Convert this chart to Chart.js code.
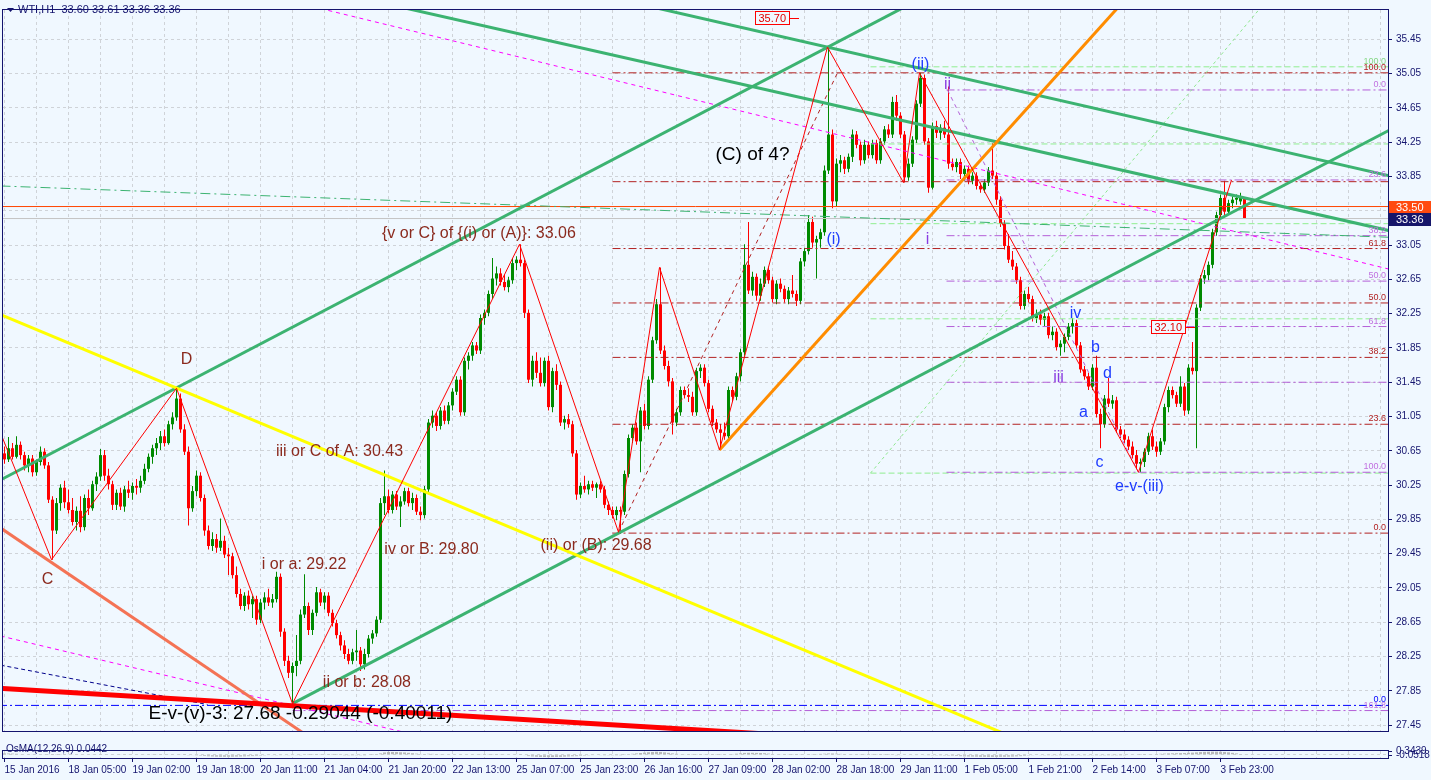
<!DOCTYPE html>
<html>
<head>
<meta charset="utf-8">
<title>WTI,H1</title>
<script src="https://cdn.jsdelivr.net/npm/chart.js@4.4.1/dist/chart.umd.min.js"></script>
<style>
  html, body { margin: 0; padding: 0; background: #f0f8ff; }
  #wrap { position: relative; width: 1431px; height: 780px; overflow: hidden; }
  canvas { position: absolute; left: 0; }
  #mainChart { top: 0; }
  #osmaChart { top: 741px; }
</style>
</head>
<body>
<div id="wrap">
  <canvas id="mainChart" width="1431" height="741"></canvas>
  <canvas id="osmaChart" width="1431" height="39"></canvas>
</div>
<script>
// time labels, one every 16 H1 bars
const xLabels = ['15 Jan 2016', '18 Jan 05:00', '19 Jan 02:00', '19 Jan 18:00', '20 Jan 11:00',
  '21 Jan 04:00', '21 Jan 20:00', '22 Jan 13:00', '25 Jan 07:00', '25 Jan 23:00', '26 Jan 16:00',
  '27 Jan 09:00', '28 Jan 02:00', '28 Jan 18:00', '29 Jan 11:00', '1 Feb 05:00', '1 Feb 21:00',
  '2 Feb 14:00', '3 Feb 07:00', '3 Feb 23:00'];

// price scale labels
const yTicks = [27.45, 27.85, 28.25, 28.65, 29.05, 29.45, 29.85, 30.25, 30.65, 31.05, 31.45,
  31.85, 32.25, 32.65, 33.05, 33.45, 33.85, 34.25, 34.65, 35.05, 35.45];

// H1 candles: [open, high, low, close]
const ohlc = [
  [30.62,30.70,30.50,30.55],[30.55,30.81,30.52,30.68],[30.68,30.74,30.55,30.58],[30.58,30.82,30.56,30.72],[30.72,30.76,30.55,30.60],[30.60,30.64,30.42,30.48],[30.48,30.60,30.40,30.56],[30.56,30.60,30.35,30.40],[30.40,30.55,30.36,30.52],[30.52,30.70,30.48,30.64],
  [30.64,30.68,30.44,30.48],[30.48,30.52,30.04,30.08],[30.08,30.12,29.38,29.72],[29.72,30.10,29.68,30.04],[30.04,30.26,29.95,30.22],[30.22,30.30,29.98,30.05],[30.05,30.20,29.92,29.96],[29.96,30.10,29.78,29.82],[29.82,30.00,29.72,29.95],[29.95,30.12,29.70,29.76],
  [29.76,30.14,29.72,30.10],[30.10,30.20,29.90,29.98],[29.98,30.30,29.95,30.26],[30.26,30.40,30.18,30.35],[30.35,30.67,30.30,30.60],[30.60,30.66,30.30,30.36],[30.36,30.44,30.20,30.26],[30.26,30.30,29.96,30.02],[30.02,30.20,29.96,30.16],[30.16,30.22,29.96,30.00],
  [30.00,30.24,29.94,30.20],[30.20,30.30,30.10,30.16],[30.16,30.28,30.08,30.24],[30.24,30.32,30.14,30.22],[30.22,30.36,30.16,30.30],[30.30,30.50,30.26,30.44],[30.44,30.62,30.40,30.58],[30.58,30.72,30.50,30.68],[30.68,30.80,30.60,30.74],[30.74,30.88,30.66,30.82],
  [30.82,30.90,30.70,30.74],[30.74,31.00,30.72,30.96],[30.96,31.10,30.90,31.04],[31.04,31.38,31.00,31.26],[31.26,31.32,30.86,30.90],[30.90,30.96,30.60,30.64],[30.64,30.70,29.78,29.98],[29.98,30.24,29.94,30.18],[30.18,30.42,30.12,30.36],[30.36,30.40,30.06,30.10],
  [30.10,30.14,29.66,29.72],[29.72,29.78,29.50,29.54],[29.54,29.70,29.48,29.62],[29.62,29.68,29.46,29.52],[29.52,29.86,29.48,29.60],[29.60,29.66,29.40,29.44],[29.44,29.52,29.20,29.42],[29.42,29.46,29.16,29.20],[29.20,29.30,28.94,28.98],[28.98,29.04,28.80,28.84],
  [28.84,29.00,28.78,28.96],[28.96,29.02,28.80,28.86],[28.86,28.96,28.70,28.92],[28.92,28.96,28.62,28.68],[28.68,28.92,28.64,28.88],[28.88,29.00,28.80,28.94],[28.94,29.04,28.84,28.88],[28.88,28.98,28.82,28.92],[28.92,29.24,28.88,29.18],[29.18,29.22,28.48,28.54],
  [28.54,28.58,28.14,28.20],[28.20,28.26,28.00,28.06],[28.06,28.18,27.70,28.14],[28.14,28.50,28.02,28.20],[28.20,28.80,28.16,28.74],[28.74,29.21,28.70,28.84],[28.84,28.88,28.50,28.56],[28.56,28.80,28.50,28.76],[28.76,29.06,28.72,29.00],[29.00,29.04,28.84,28.88],
  [28.88,29.00,28.80,28.96],[28.96,29.00,28.72,28.76],[28.76,28.80,28.60,28.64],[28.64,28.68,28.46,28.50],[28.50,28.54,28.32,28.38],[28.38,28.44,28.22,28.28],[28.28,28.34,28.16,28.20],[28.20,28.34,28.16,28.30],[28.30,28.56,28.20,28.32],[28.32,28.36,28.08,28.16],
  [28.16,28.34,28.10,28.28],[28.28,28.50,28.24,28.46],[28.46,28.56,28.40,28.52],[28.52,28.72,28.48,28.68],[28.68,30.10,28.64,30.04],[30.04,30.42,29.90,30.12],[30.12,30.20,29.92,29.96],[29.96,30.18,29.92,30.14],[30.14,30.18,29.96,30.00],[30.00,30.12,29.76,30.06],
  [30.06,30.22,30.02,30.18],[30.18,30.22,30.00,30.04],[30.04,30.16,29.96,30.10],[30.10,30.14,29.90,29.94],[29.94,30.00,29.84,29.90],[29.90,30.24,29.86,30.20],[30.20,31.02,30.16,30.98],[30.98,31.12,30.92,31.06],[31.06,31.10,30.88,30.94],[30.94,31.16,30.90,31.12],
  [31.12,31.18,30.96,31.00],[31.00,31.22,30.96,31.18],[31.18,31.38,31.12,31.34],[31.34,31.52,31.30,31.48],[31.48,31.52,31.06,31.10],[31.10,31.74,31.06,31.70],[31.70,31.80,31.60,31.76],[31.76,31.92,31.70,31.88],[31.88,31.92,31.78,31.82],[31.82,32.24,31.78,32.20],
  [32.20,32.30,32.12,32.26],[32.26,32.52,32.22,32.48],[32.48,32.90,32.42,32.66],[32.66,32.80,32.58,32.72],[32.72,32.78,32.58,32.62],[32.62,32.70,32.52,32.56],[32.56,32.68,32.50,32.64],[32.64,32.90,32.60,32.84],[32.84,32.92,32.76,32.88],[32.88,33.06,32.80,32.84],
  [32.84,32.88,32.20,32.26],[32.26,32.30,31.44,31.48],[31.48,31.76,31.40,31.70],[31.70,31.80,31.50,31.56],[31.56,31.74,31.40,31.44],[31.44,31.74,31.40,31.70],[31.70,31.76,31.12,31.16],[31.16,31.62,31.10,31.58],[31.58,31.66,31.36,31.42],[31.42,31.46,30.94,30.98],
  [30.98,31.06,30.90,31.02],[31.02,31.08,30.92,30.96],[30.96,31.00,30.58,30.62],[30.62,30.66,30.08,30.14],[30.14,30.28,30.10,30.24],[30.24,30.36,30.16,30.20],[30.20,30.30,30.14,30.26],[30.26,30.30,30.18,30.22],[30.22,30.28,30.10,30.26],[30.26,30.30,30.16,30.20],
  [30.20,30.24,29.98,30.02],[30.02,30.06,29.90,29.96],[29.96,30.00,29.86,29.90],[29.90,30.00,29.84,29.96],[29.96,30.00,29.68,29.94],[29.94,30.42,29.90,30.38],[30.38,30.84,30.34,30.80],[30.80,30.96,30.74,30.92],[30.92,30.98,30.72,30.76],[30.76,31.16,30.40,31.12],
  [31.12,31.20,30.90,30.94],[30.94,31.52,30.90,31.48],[31.48,31.98,31.44,31.94],[31.94,32.42,31.90,32.36],[32.36,32.79,31.78,31.82],[31.82,31.88,31.60,31.64],[31.64,31.70,31.40,31.46],[31.46,31.50,30.84,30.98],[30.98,31.14,30.94,31.10],[31.10,31.40,31.06,31.36],
  [31.36,31.40,31.26,31.30],[31.30,31.38,31.22,31.28],[31.28,31.34,31.06,31.10],[31.10,31.62,31.06,31.58],[31.58,31.66,31.50,31.62],[31.62,31.66,31.40,31.44],[31.44,31.48,31.10,31.14],[31.14,31.18,30.94,30.98],[30.98,31.02,30.86,30.90],[30.90,30.96,30.66,30.86],
  [30.86,30.98,30.78,30.82],[30.82,31.40,30.78,31.36],[31.36,31.40,31.22,31.28],[31.28,31.56,31.24,31.52],[31.52,31.84,31.46,31.80],[31.80,33.06,31.76,32.82],[32.82,33.32,32.48,32.52],[32.52,32.74,32.46,32.68],[32.68,32.72,32.40,32.46],[32.46,32.66,32.40,32.60],
  [32.60,32.80,32.56,32.76],[32.76,32.80,32.60,32.64],[32.64,32.68,32.38,32.42],[32.42,32.64,32.36,32.60],[32.60,32.66,32.50,32.54],[32.54,32.58,32.38,32.42],[32.42,32.56,32.36,32.52],[32.52,32.70,32.44,32.48],[32.48,32.52,32.34,32.40],[32.40,32.90,32.36,32.86],
  [32.86,33.02,32.80,32.98],[32.98,33.40,32.94,33.32],[33.32,33.38,33.02,33.08],[33.08,33.16,32.66,33.12],[33.12,33.24,33.02,33.20],[33.20,33.98,33.16,33.92],[33.92,35.36,33.88,34.34],[34.34,34.40,33.48,33.56],[33.56,34.06,33.50,34.00],[34.00,34.10,33.90,34.04],
  [34.04,34.08,33.88,33.94],[33.94,34.12,33.90,34.08],[34.08,34.40,34.02,34.34],[34.34,34.38,34.18,34.22],[34.22,34.26,33.98,34.04],[34.04,34.28,34.00,34.22],[34.22,34.26,34.06,34.10],[34.10,34.28,34.06,34.24],[34.24,34.28,34.00,34.04],[34.04,34.30,34.00,34.26],
  [34.26,34.44,34.22,34.40],[34.40,34.46,34.30,34.34],[34.34,34.78,34.30,34.72],[34.72,34.80,34.50,34.56],[34.56,34.60,34.30,34.34],[34.34,34.38,33.78,33.84],[33.84,34.06,33.80,34.00],[34.00,34.32,33.96,34.28],[34.28,34.74,34.24,34.70],[34.70,35.06,34.66,35.00],
  [35.00,35.04,34.22,34.26],[34.26,34.30,33.66,33.72],[33.72,34.48,33.70,34.44],[34.44,34.50,34.30,34.36],[34.36,34.46,34.28,34.42],[34.42,34.50,34.30,34.34],[34.34,34.90,33.94,34.00],[34.00,34.06,33.92,33.96],[33.96,34.06,33.90,34.02],[34.02,34.06,33.82,33.88],
  [33.88,33.98,33.80,33.94],[33.94,33.98,33.76,33.80],[33.80,33.90,33.76,33.86],[33.86,33.90,33.70,33.74],[33.74,33.78,33.66,33.70],[33.70,33.82,33.66,33.78],[33.78,33.96,33.74,33.92],[33.92,34.24,33.82,33.86],[33.86,33.90,33.52,33.58],[33.58,33.62,33.26,33.30],
  [33.30,33.34,33.00,33.04],[33.04,33.18,32.84,32.88],[32.88,32.98,32.76,32.80],[32.80,32.84,32.60,32.64],[32.64,32.68,32.30,32.34],[32.34,32.52,32.30,32.48],[32.48,32.56,32.38,32.42],[32.42,32.46,32.16,32.20],[32.20,32.30,32.14,32.24],[32.24,32.30,32.12,32.18],
  [32.18,32.26,32.10,32.22],[32.22,32.26,31.96,32.00],[32.00,32.10,31.94,32.04],[32.04,32.08,31.82,31.86],[31.86,31.94,31.76,31.90],[31.90,32.02,31.80,31.98],[31.98,32.14,31.94,32.10],[32.10,32.20,32.02,32.14],[32.14,32.18,31.84,31.88],[31.88,31.92,31.56,31.60],
  [31.60,31.64,31.48,31.52],[31.52,31.56,31.36,31.40],[31.40,31.66,31.36,31.62],[31.62,31.76,31.04,31.08],[31.08,31.14,30.68,30.96],[30.96,31.30,30.92,31.26],[31.26,31.50,31.16,31.20],[31.20,31.30,31.14,31.24],[31.24,31.28,30.86,30.90],[30.90,30.94,30.80,30.84],
  [30.84,30.90,30.74,30.78],[30.78,30.82,30.66,30.70],[30.70,30.76,30.56,30.60],[30.60,30.66,30.44,30.50],[30.50,30.56,30.40,30.52],[30.52,30.68,30.46,30.64],[30.64,30.86,30.60,30.82],[30.82,30.90,30.66,30.70],[30.70,30.76,30.58,30.64],[30.64,30.80,30.60,30.76],
  [30.76,31.20,30.72,31.16],[31.16,31.40,31.10,31.36],[31.36,31.40,31.26,31.30],[31.30,31.34,31.16,31.20],[31.20,31.52,31.16,31.40],[31.40,31.44,31.06,31.12],[31.12,31.66,31.08,31.62],[31.62,31.92,31.54,31.58],[31.58,32.36,30.68,32.32],[32.32,32.70,32.28,32.66],
  [32.66,32.76,32.60,32.70],[32.70,32.86,32.64,32.82],[32.82,33.24,32.78,33.20],[33.20,33.44,33.16,33.40],[33.40,33.64,33.36,33.60],[33.60,33.80,33.40,33.44],[33.44,33.58,33.40,33.54],[33.54,33.62,33.48,33.58],[33.58,33.64,33.52,33.60],[33.56,33.66,33.52,33.60],
  [33.60,33.61,33.36,33.36]
];

// OsMA(12,26,9) histogram, one value per bar
const osma = [
  0.14,0.13,0.12,0.10,0.06,0.05,0.04,0.04,0.05,0.05,
  0.04,0.03,0.02,0.02,0.03,0.03,0.04,0.04,0.04,0.05,
  0.05,0.05,0.06,0.06,0.07,0.06,0.05,0.05,0.05,0.04,
  0.04,0.04,0.05,0.05,0.05,0.06,0.06,0.07,0.07,0.07,
  0.07,0.06,0.06,0.05,0.04,0.02,-0.03,-0.06,-0.08,-0.10,
  -0.13,-0.16,-0.18,-0.20,-0.21,-0.21,-0.21,-0.20,-0.19,-0.18,
  -0.17,-0.15,-0.14,-0.12,-0.10,-0.08,-0.06,-0.04,-0.03,-0.04,
  -0.06,-0.07,-0.06,-0.04,-0.02,0.00,0.01,0.02,0.02,0.03,
  0.03,0.03,0.02,0.01,0.00,-0.01,-0.02,-0.02,-0.02,-0.02,
  -0.01,0.00,0.01,0.03,0.14,0.24,0.28,0.29,0.28,0.26,
  0.24,0.20,0.16,0.12,0.08,0.08,0.10,0.09,0.08,0.07,
  0.06,0.05,0.05,0.05,0.04,0.05,0.05,0.06,0.06,0.07,
  0.07,0.08,0.08,0.08,0.07,0.06,0.05,0.05,0.04,0.02,
  -0.06,-0.14,-0.18,-0.21,-0.23,-0.24,-0.25,-0.24,-0.23,-0.22,
  -0.20,-0.18,-0.16,-0.15,-0.12,-0.10,-0.08,-0.06,-0.05,-0.04,
  -0.03,-0.03,-0.02,-0.02,-0.01,0.02,0.06,0.10,0.14,0.18,
  0.22,0.26,0.29,0.31,0.29,0.25,0.20,0.14,0.10,0.06,
  0.04,0.03,0.02,0.02,0.02,0.03,0.03,0.02,0.02,0.02,
  0.03,0.05,0.08,0.11,0.15,0.19,0.20,0.20,0.19,0.18,
  0.16,0.12,0.08,0.05,0.04,0.03,0.03,0.02,0.02,0.03,
  0.05,0.07,0.08,0.08,0.09,0.11,0.13,0.13,0.11,0.09,
  0.07,0.05,0.04,0.04,0.03,0.03,0.03,0.02,0.02,0.02,
  0.02,0.01,0.00,-0.02,-0.04,-0.05,-0.06,-0.06,-0.06,-0.05,
  -0.06,-0.07,-0.08,-0.08,-0.08,-0.09,-0.10,-0.11,-0.13,-0.15,
  -0.17,-0.18,-0.19,-0.20,-0.21,-0.21,-0.22,-0.22,-0.22,-0.21,
  -0.21,-0.20,-0.19,-0.17,-0.15,-0.12,-0.09,-0.07,-0.05,-0.04,
  -0.03,-0.03,-0.02,-0.02,-0.02,-0.02,-0.02,-0.02,-0.03,-0.03,
  -0.03,-0.03,-0.02,-0.02,-0.02,-0.02,-0.01,-0.01,-0.01,-0.01,
  -0.01,0.00,0.00,0.00,0.01,0.02,0.04,0.06,0.08,0.10,
  0.12,0.14,0.15,0.16,0.17,0.18,0.20,0.22,0.25,0.28,
  0.30,0.31,0.32,0.32,0.31,0.29,0.25,0.20,0.14,0.08,0.0442
];
const osmaTicks = [0.3439, 0, -0.0518];

// trend lines, [bar, price] end points
const channelUpper = [[-1, 30.31], [230, 35.95]];
const channelLower = [[72, 27.70], [347, 34.41]];
const fallUpper = [[158, 35.87], [347, 33.85]];
const fallLower = [[95, 35.87], [347, 33.21]];
const orangeTrend = [[178.75, 30.66], [282, 36.01]];
const yellowTrend = [[-1, 32.24], [250, 27.35]];
const salmonTrend = [[-1, 29.75], [80, 27.19]];
const redBase = [[-1, 27.88], [200, 27.32]];
const magentaUpper = [[79, 35.81], [347, 32.76]];
const magentaLower = [[-1, 28.49], [105, 27.31]];
const greenDashDot = [[-1, 33.74], [347, 33.14]];
const lightGreenRay = [[216.5, 30.39], [316, 35.93]];
const navyDashed = [[-1, 28.15], [50.75, 27.69]];
const brownDashed = [[153.5, 29.70], [208.25, 35.06]];
const violetDashed = [[235.75, 34.86], [283.5, 30.40]];
const waveZigzag = [[-1, 30.86], [11.75, 29.38], [43, 31.38], [72, 27.70], [128.75, 33.06],
  [153.5, 29.70], [163.75, 32.79], [178.75, 30.66], [205.75, 35.36], [224.75, 33.78],
  [228.75, 35.06], [283.5, 30.40], [306.75, 33.81]];

// fibonacci levels
const fibRedFrom = 152;
const fibRedLevels = [35.06, 33.79, 33.01, 32.375, 31.74, 30.96, 29.69];
const fibRedNames = ['100.0', '', '61.8', '50.0', '38.2', '23.6', '0.0'];
const fibVioletFrom = 235.5;
const fibVioletLevels = [34.86, 33.81, 33.16, 32.63, 32.10, 31.45, 30.40];
const fibVioletNames = ['0.0', '23.6', '38.2', '50.0', '61.8', '', '100.0'];
const fibGreenFrom = 216.5;
const fibGreenLevels = [35.13, 34.23, 33.30, 32.19, 30.39];
const fibGreenNames = ['100.0', '', '', '', ''];
const baseBlueLevel = 27.68;
const baseVioletLevel = 27.62;
const baseVioletFrom = 72;
const bidPrice = 33.50;
const lastPrice = 33.36;

// price marks (bar, price)
const priceMarks = [[187.75, 35.70], [286.5, 32.10]];

// wave notes [bar, price, text]
const brownNotes = [
  [45.5, 31.71, 'D'], [10.75, 29.15, 'C'],
  [83.75, 30.64, 'iii or C of A: 30.43'], [74.9, 29.32, 'i or a: 29.22'],
  [106.75, 29.50, 'iv or B: 29.80'], [90.6, 27.95, 'ii or b: 28.08'],
  [118.6, 33.19, '{v or C} of {(i) or (A)}: 33.06'], [147.9, 29.55, '(ii) or (B): 29.68']
];
const blueNotes = [
  [207.25, 33.12, '(i)'], [229, 35.16, '(ii)'], [267.75, 32.25, 'iv'], [272.75, 31.86, 'b'],
  [275.75, 31.55, 'd'], [269.75, 31.10, 'a'], [273.75, 30.51, 'c'], [283.75, 30.23, 'e-v-(iii)']
];
const violetNotes = [[235.75, 34.92, 'ii'], [230.75, 33.11, 'i'], [263.5, 31.51, 'iii']];
const blackNotes = [[187, 34.10, '(C) of 4?'], [74, 27.58, 'E-v-(v)-3: 27.68 -0.29044 (-0.40011)']];

// ---- view ----
const xMin = -0.375, xMax = 345.875;
const yMin = 27.3814, yMax = 35.7929;
const NAVY = '#14146e';
const GRID = '#cfd3d8';
const FONT = "'Liberation Sans', Arial, sans-serif";
const gridBars = Array.from({ length: 44 }, (_, k) => k * 8);

Chart.defaults.font.family = FONT;
Chart.defaults.font.size = 10;
Chart.defaults.color = NAVY;

function seg(points, color, width, dash) {
  return {
    type: 'line',
    data: points.map(p => ({ x: p[0], y: p[1] })),
    borderColor: color,
    borderWidth: width,
    borderDash: dash || [],
    pointRadius: 0,
    fill: false,
    tension: 0,
    order: 0
  };
}

function levelSets(levels, from, color, dash) {
  return levels.map(v => seg([[from, v], [xMax + 1, v]], color, 1, dash));
}

const wickData = ohlc.map((b, i) => ({ x: i, y: [b[2], b[1]] }));
const bodyData = ohlc.map((b, i) => ({ x: i, y: [Math.min(b[0], b[3]), Math.max(b[0], b[3])] }));
const candleColors = ohlc.map(b => b[3] >= b[0] ? '#008a00' : '#ff0000');

const DASHDOT = [8, 3, 2, 3];

const mainDatasets = [
  seg(waveZigzag, '#ff0000', 1),
  seg(redBase, '#ff0000', 5),
  seg(salmonTrend, '#f47355', 3),
  seg(yellowTrend, '#ffff00', 3),
  seg(orangeTrend, '#ff8c00', 3),
  seg(channelUpper, '#3cb371', 3),
  seg(channelLower, '#3cb371', 3),
  seg(fallUpper, '#3cb371', 3),
  seg(fallLower, '#3cb371', 3),
  seg(magentaUpper, '#ff00ff', 1, [4, 4]),
  seg(magentaLower, '#ff00ff', 1, [4, 4]),
  seg(greenDashDot, '#3cb371', 1, [10, 4, 2, 4]),
  seg(lightGreenRay, '#8fe88f', 1, [3, 3]),
  seg(navyDashed, '#00008b', 1, [4, 3]),
  seg(brownDashed, '#b22222', 1, [4, 4]),
  seg(violetDashed, '#b45fd8', 1, [4, 4]),
  seg([[xMin - 1, bidPrice], [xMax + 1, bidPrice]], '#ff4500', 1),
  seg([[xMin - 1, lastPrice], [xMax + 1, lastPrice]], '#c4c4c4', 1),
  seg([[xMin - 1, baseBlueLevel], [xMax + 1, baseBlueLevel]], '#0000ff', 1, DASHDOT),
  seg([[baseVioletFrom, baseVioletLevel], [xMax + 1, baseVioletLevel]], '#b45fd8', 1, DASHDOT),
  ...levelSets(fibRedLevels, fibRedFrom, '#b22222', DASHDOT),
  ...levelSets(fibVioletLevels, fibVioletFrom, '#b45fd8', DASHDOT),
  ...levelSets(fibGreenLevels, fibGreenFrom, '#90ee90', [6, 3]),
  {
    type: 'bar', data: bodyData, backgroundColor: candleColors, barThickness: 3,
    grouped: false, borderWidth: 0, inflateAmount: 0, minBarLength: 1, order: 1
  },
  {
    type: 'bar', data: wickData, backgroundColor: candleColors, barThickness: 1,
    grouped: false, borderWidth: 0, inflateAmount: 0, minBarLength: 1, order: 2
  }
];

function fillBg(chart) {
  const c = chart.ctx;
  c.save();
  c.fillStyle = '#f0f8ff';
  c.fillRect(0, 0, chart.width, chart.height);
  c.restore();
}

function frame(chart) {
  const { ctx, chartArea: a } = chart;
  ctx.save();
  ctx.strokeStyle = NAVY;
  ctx.lineWidth = 1;
  ctx.setLineDash([]);
  ctx.strokeRect(a.left - 0.5, a.top - 0.5, a.right - a.left + 1, a.bottom - a.top + 1);
  ctx.restore();
}

function levelLabels(chart, levels, names, color) {
  const { ctx, chartArea: a, scales: { y } } = chart;
  ctx.save();
  ctx.fillStyle = color;
  ctx.font = '9px ' + FONT;
  ctx.textAlign = 'right';
  ctx.textBaseline = 'bottom';
  levels.forEach((v, k) => {
    if (names[k]) ctx.fillText(names[k], a.right - 2, y.getPixelForValue(v) - 1);
  });
  ctx.restore();
}

function drawNotes(chart, notes, color, size) {
  const { ctx, scales: { x, y } } = chart;
  ctx.save();
  ctx.fillStyle = color;
  ctx.font = size + 'px ' + FONT;
  ctx.textAlign = 'center';
  ctx.textBaseline = 'middle';
  notes.forEach(n => ctx.fillText(n[2], x.getPixelForValue(n[0]), y.getPixelForValue(n[1])));
  ctx.restore();
}

function drawPriceMarks(chart) {
  const { ctx, scales: { x, y } } = chart;
  ctx.save();
  ctx.font = '11px ' + FONT;
  ctx.textBaseline = 'middle';
  priceMarks.forEach(m => {
    const px = Math.round(x.getPixelForValue(m[0]));
    const py = Math.round(y.getPixelForValue(m[1]));
    const txt = m[1].toFixed(2);
    const w = Math.ceil(ctx.measureText(txt).width) + 6;
    ctx.fillStyle = '#f0f8ff';
    ctx.fillRect(px, py - 7, w, 14);
    ctx.strokeStyle = '#ff0000';
    ctx.lineWidth = 1;
    ctx.strokeRect(px + 0.5, py - 6.5, w, 13);
    ctx.beginPath();
    ctx.moveTo(px + w, py + 0.5);
    ctx.lineTo(px + w + 10, py + 0.5);
    ctx.stroke();
    ctx.fillStyle = '#e00000';
    ctx.fillText(txt, px + 3.5, py + 0.5);
  });
  ctx.restore();
}

function priceTag(chart, value, bg) {
  const { ctx, chartArea: a, scales: { y } } = chart;
  const py = Math.round(y.getPixelForValue(value));
  ctx.save();
  ctx.fillStyle = bg;
  ctx.fillRect(a.right + 1, py - 6, chart.width - a.right - 1, 13);
  ctx.fillStyle = '#ffffff';
  ctx.font = '11px ' + FONT;
  ctx.textBaseline = 'middle';
  ctx.fillText(value.toFixed(2), a.right + 8, py + 1);
  ctx.restore();
}

const mainDecor = {
  id: 'mainDecor',
  beforeDraw: fillBg,
  afterDatasetsDraw(chart) {
    levelLabels(chart, fibRedLevels, fibRedNames, '#b22222');
    levelLabels(chart, fibVioletLevels, fibVioletNames, '#c070e0');
    levelLabels(chart, fibGreenLevels, fibGreenNames, '#86d886');
    levelLabels(chart, [baseBlueLevel], ['0.0'], '#0000ff');
    levelLabels(chart, [baseVioletLevel], ['161.8'], '#c070e0');
    drawNotes(chart, brownNotes, '#8b2a1e', 16);
    drawNotes(chart, blueNotes, '#1e3cff', 16);
    drawNotes(chart, violetNotes, '#8a3ce0', 16);
    drawNotes(chart, blackNotes, '#000000', 19);
    drawPriceMarks(chart);
  },
  afterDraw(chart) {
    frame(chart);
    priceTag(chart, bidPrice, '#ff4a10');
    priceTag(chart, lastPrice, '#16166a');
    // header
    const ctx = chart.ctx;
    const last = ohlc[ohlc.length - 1];
    ctx.save();
    ctx.fillStyle = NAVY;
    ctx.beginPath();
    ctx.moveTo(7, 8); ctx.lineTo(14, 8); ctx.lineTo(10.5, 12); ctx.closePath();
    ctx.fill();
    ctx.font = '11px ' + FONT;
    ctx.textBaseline = 'middle';
    ctx.fillText('WTI,H1  ' + last.map(v => v.toFixed(2)).join(' '), 18, 10);
    ctx.restore();
  }
};

new Chart(document.getElementById('mainChart'), {
  type: 'bar',
  data: { datasets: mainDatasets },
  options: {
    responsive: false,
    animation: false,
    devicePixelRatio: 1,
    layout: { padding: { left: 3, top: 4, right: 0, bottom: 1 } },
    plugins: { legend: { display: false }, tooltip: { enabled: false } },
    scales: {
      x: {
        type: 'linear', min: xMin, max: xMax, offset: false, bounds: 'data',
        grid: { offset: false, color: GRID, drawTicks: false },
        border: { display: false, dash: [3, 3] },
        ticks: { display: false },
        afterBuildTicks: s => { s.ticks = gridBars.map(v => ({ value: v })); },
        afterFit: s => { s.height = 0; }
      },
      y: {
        type: 'linear', position: 'right', min: yMin, max: yMax, bounds: 'data', beginAtZero: false,
        grid: { color: GRID, tickLength: 4, tickColor: NAVY },
        border: { display: false, dash: [3, 3] },
        ticks: { color: NAVY, padding: 4, autoSkip: false, callback: v => Number(v).toFixed(2) },
        afterBuildTicks: s => { s.ticks = yTicks.map(v => ({ value: v })); },
        afterFit: s => { s.width = 43; }
      }
    }
  },
  plugins: [mainDecor]
});

const osmaDecor = {
  id: 'osmaDecor',
  beforeDraw: fillBg,
  afterDraw(chart) {
    frame(chart);
    const ctx = chart.ctx;
    ctx.save();
    ctx.fillStyle = NAVY;
    ctx.font = '10px ' + FONT;
    ctx.textBaseline = 'middle';
    ctx.fillText('OsMA(12,26,9) ' + osma[osma.length - 1].toFixed(4), 6, 8);
    ctx.restore();
  }
};

new Chart(document.getElementById('osmaChart'), {
  type: 'bar',
  data: {
    datasets: [{
      data: osma.map((v, i) => ({ x: i, y: v })),
      backgroundColor: '#b8b8b8', barThickness: 3, grouped: false,
      borderWidth: 0, inflateAmount: 0
    }]
  },
  options: {
    responsive: false,
    animation: false,
    devicePixelRatio: 1,
    layout: { padding: { left: 3, top: 1, right: 0, bottom: 0 } },
    plugins: { legend: { display: false }, tooltip: { enabled: false } },
    scales: {
      x: {
        type: 'linear', min: xMin, max: xMax, offset: false, bounds: 'data',
        grid: {
          offset: false, color: GRID, tickLength: 4,
          tickColor: c => (c.tick && c.tick.value % 16 === 0 && xLabels[c.tick.value / 16]) ? NAVY : 'rgba(0,0,0,0)'
        },
        border: { display: false, dash: [3, 3] },
        ticks: {
          autoSkip: false, maxRotation: 0, align: 'start', padding: 2, color: NAVY,
          callback: v => (v % 16 === 0 && xLabels[v / 16]) ? xLabels[v / 16] : ''
        },
        afterBuildTicks: s => { s.ticks = gridBars.map(v => ({ value: v })); },
        afterFit: s => { s.height = 22; }
      },
      y: {
        type: 'linear', position: 'right', min: -0.34, max: 0.39, bounds: 'data', beginAtZero: false,
        grid: {
          color: c => (c.tick && c.tick.value === 0) ? GRID : 'rgba(0,0,0,0)',
          tickLength: 4,
          tickColor: c => (c.tick && c.tick.value === 0) ? 'rgba(0,0,0,0)' : NAVY
        },
        border: { display: false, dash: [3, 3] },
        ticks: { color: NAVY, padding: 4, autoSkip: false, callback: v => v === 0 ? '' : Number(v).toFixed(4) },
        afterBuildTicks: s => { s.ticks = osmaTicks.map(v => ({ value: v })); },
        afterFit: s => { s.width = 43; }
      }
    }
  },
  plugins: [osmaDecor]
});
</script>
</body>
</html>
